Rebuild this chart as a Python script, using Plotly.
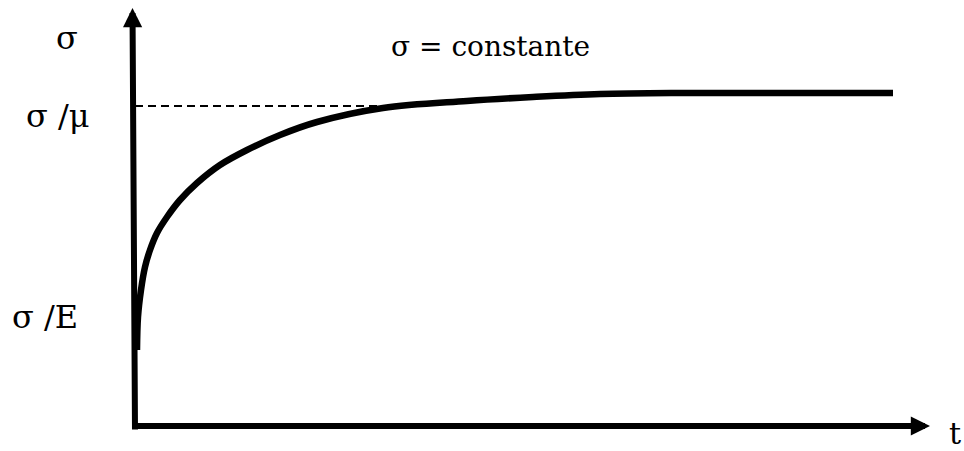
import plotly.graph_objects as go

# Creep curve under constant stress: strain vs. time (arbitrary units)
t_vals = [2, 3, 6, 10, 15, 22, 32, 45, 62, 85, 112, 145, 182, 248, 332, 398, 465, 545, 650, 758]
strain_vals = [77, 110, 137, 160, 177, 194, 210, 227, 244, 262, 277, 292, 305, 319, 326, 330, 333, 334, 334, 334]

# Asymptotic strain level sigma/mu and the dashed guide reaching it
asymptote_level = 321
asymptote_t = [0, 248]

# Axis extents
t_axis_end = 795
strain_axis_end = 419

FONT = "DejaVu Serif"

fig = go.Figure()

fig.add_trace(go.Scatter(
    x=asymptote_t, y=[asymptote_level, asymptote_level],
    mode="lines", line=dict(color="black", width=2.2, dash="8px,5px"),
    hoverinfo="skip", showlegend=False,
))

fig.add_trace(go.Scatter(
    x=t_vals, y=strain_vals,
    mode="lines", line=dict(color="black", width=6.5, shape="spline", smoothing=1.0),
    hoverinfo="skip", showlegend=False,
))

# Axes drawn as arrows
fig.add_annotation(x=-2.5, y=strain_axis_end, ax=0, ay=-4,
                   xref="x", yref="y", axref="x", ayref="y",
                   text="", showarrow=True, arrowhead=2, arrowsize=0.64,
                   arrowwidth=6, arrowcolor="black")
fig.add_annotation(x=t_axis_end, y=1, ax=-3, ay=1,
                   xref="x", yref="y", axref="x", ayref="y",
                   text="", showarrow=True, arrowhead=2, arrowsize=0.64,
                   arrowwidth=6, arrowcolor="black")

labels = [
    ("σ", -68, 389, 32),
    ("σ /μ", -77, 311, 32),
    ("σ /E", -90, 110, 32),
    ("σ = constante", 355, 381, 28),
    ("t", 820, -6, 30),
]
for txt, lx, ly, size in labels:
    fig.add_annotation(x=lx, y=ly, xref="x", yref="y", text=txt, showarrow=False,
                       xanchor="center", yanchor="middle",
                       font=dict(family=FONT, size=size, color="black"))

fig.update_xaxes(range=[-135, 829], visible=False, fixedrange=True)
fig.update_yaxes(range=[-24, 427], visible=False, fixedrange=True)
fig.update_layout(
    width=964, height=451,
    margin=dict(l=0, r=0, t=0, b=0),
    paper_bgcolor="white", plot_bgcolor="white",
)

fig.write_html("out.html")
